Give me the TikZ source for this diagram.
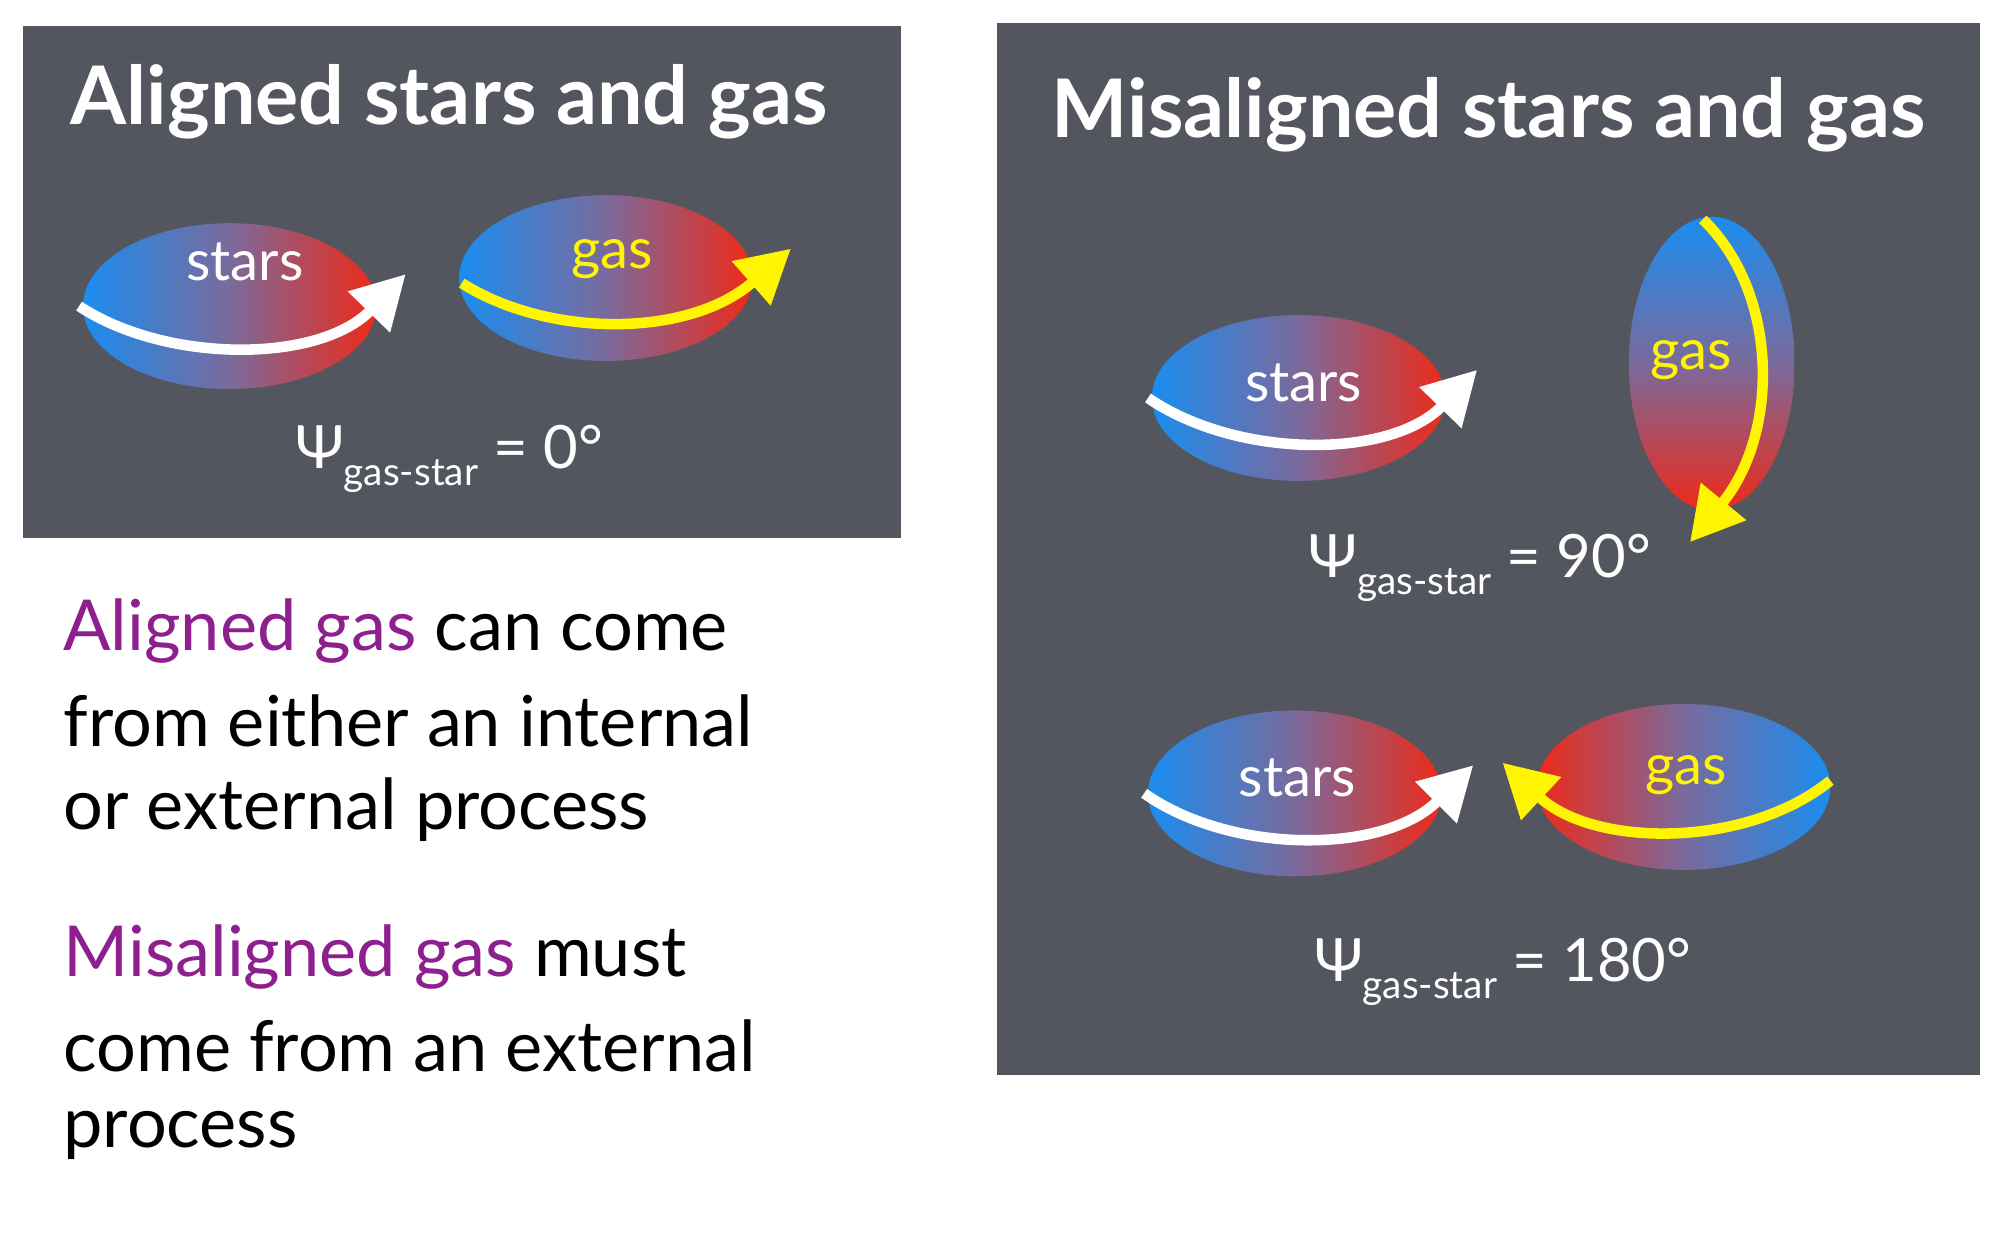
\documentclass[tikz,border=0pt]{standalone}
\usepackage{fontspec}
\setmainfont{Lato}
\usetikzlibrary{arrows.meta}
\definecolor{panel}{HTML}{53565E}
\definecolor{sblue}{HTML}{1A8DF0}
\definecolor{sred}{HTML}{EE2A18}
\definecolor{smid}{HTML}{7A6A9C}
\definecolor{purp}{HTML}{8E1F8E}
\definecolor{yel}{HTML}{FFF500}
\tikzset{
  rotarrow/.style={line width=3pt,-{Triangle[length=15pt,width=16pt]}},
  ttl/.style={text=white,font=\fontsize{23}{26}\selectfont\bfseries},
  lbl/.style={font=\fontsize{16}{18}\selectfont},
  psi/.style={text=white,font=\fontsize{17}{20}\selectfont},
  body/.style={anchor=west,font=\fontsize{20}{24}\selectfont}
}
\newcommand{\psitxt}[1]{Ψ\raisebox{-0.55ex}{\fontsize{11}{12}\selectfont gas-star} = #1°}
\begin{document}
\begin{tikzpicture}[x=0.012755cm,y=-0.012755cm]
\useasboundingbox (0,0) rectangle (1568,976);
\fill[panel] (18,20) rectangle (706,422);
\fill[panel] (782,18) rectangle (1552,843);
\node[ttl] (t1) at (352,80) {Aligned stars and gas};
\node[ttl] (t2) at (1167,90) {Misaligned stars and gas};
% aligned
\shade[left color=sblue,right color=sred,middle color=smid] (180,240) ellipse [x radius=115,y radius=65];
\node[lbl,text=white] (s1) at (192,205) {stars};
\draw[rotarrow,white] (62,240) .. controls (130,285) and (250,285) .. (318,215);
\shade[left color=sblue,right color=sred,middle color=smid] (475,218) ellipse [x radius=115,y radius=65];
\node[lbl,text=yel] (g1) at (480,203) {gas};
\draw[rotarrow,yel] (362,222) .. controls (430,265) and (540,265) .. (620,195);
\node[psi] (p1) at (352,360) {\psitxt{0}};
% 90
\shade[left color=sblue,right color=sred,middle color=smid] (1018,312) ellipse [x radius=115,y radius=65];
\node[lbl,text=white] (s2) at (1022,300) {stars};
\draw[rotarrow,white] (900,312) .. controls (970,360) and (1090,360) .. (1158,290);
\shade[top color=sblue,bottom color=sred,middle color=smid] (1342,285) ellipse [x radius=65,y radius=115];
\node[lbl,text=yel] (g2) at (1326,282) {gas};
\draw[rotarrow,yel] (1335,172) .. controls (1395,230) and (1395,340) .. (1325,425);
\node[psi] (p2) at (1160,445) {\psitxt{90}};
% 180
\shade[left color=sblue,right color=sred,middle color=smid] (1015,622) ellipse [x radius=115,y radius=65];
\node[lbl,text=white] (s3) at (1017,610) {stars};
\draw[rotarrow,white] (897,622) .. controls (965,670) and (1085,670) .. (1155,600);
\shade[left color=sred,right color=sblue,middle color=smid] (1320,617) ellipse [x radius=115,y radius=65];
\node[lbl,text=yel] (g3) at (1322,608) {gas};
\draw[rotarrow,yel] (1435,612) .. controls (1370,665) and (1250,665) .. (1178,598);
\node[psi] (p3) at (1178,762) {\psitxt{180}};
% text
\node[body] (b1) at (40,495) {\textcolor{purp}{Aligned gas} can come};
\node[body] (b2) at (40,565) {from either an internal};
\node[body] (b3) at (40,635) {or external process};
\node[body] (b4) at (40,750) {\textcolor{purp}{Misaligned gas} must};
\node[body] (b5) at (40,820) {come from an external};
\node[body] (b6) at (40,890) {process};
\end{tikzpicture}
\end{document}
